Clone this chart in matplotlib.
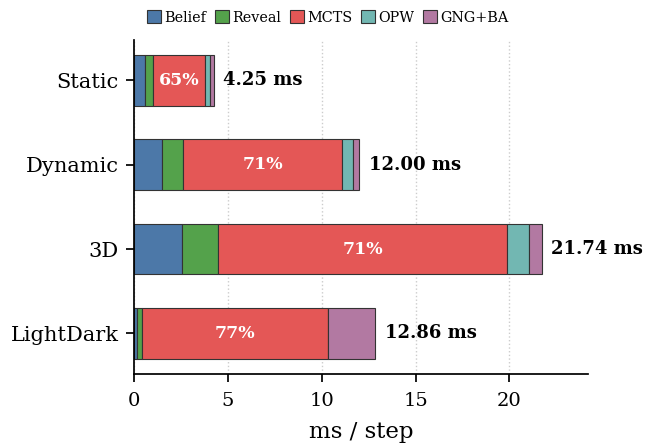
import numpy as np
import matplotlib
matplotlib.use("Agg")
import matplotlib.pyplot as plt

plt.rcParams["font.family"] = "DejaVu Serif"

scenarios = ["Static", "Dynamic", "3D", "LightDark"]
components = ["Belief", "Reveal", "MCTS", "OPW", "GNG+BA"]
belief = [0.57, 1.48, 2.55, 0.12]
reveal = [0.43, 1.12, 1.89, 0.30]
mcts = [2.77, 8.48, 15.45, 9.90]
opw = [0.25, 0.58, 1.13, 0.00]
gng_ba = [0.23, 0.34, 0.72, 2.54]
colors = ["#4C78A8", "#54A24B", "#E45756", "#72B7B2", "#B279A2"]

series = [belief, reveal, mcts, opw, gng_ba]
data = np.array(series)
totals = data.sum(axis=0)

fig = plt.figure(figsize=(6.55, 4.43), dpi=100)
ax = fig.add_axes([0.205, 0.156, 0.693, 0.754])

y = np.arange(len(scenarios))
left = np.zeros(len(scenarios))
for name, vals, c in zip(components, series, colors):
    ax.barh(y, vals, left=left, height=0.6, color=c, edgecolor="#333333",
            linewidth=0.8, label=name)
    left += np.array(vals)

# MCTS share inside the red segment, total on the right
mcts_start = data[0] + data[1]
for i in range(len(scenarios)):
    pct = 100 * mcts[i] / totals[i]
    ax.text(mcts_start[i] + mcts[i] / 2, y[i], f"{pct:.0f}%", ha="center",
            va="center", color="white", fontweight="bold", fontsize=12.5)
    ax.text(totals[i] + 0.5, y[i], f"{totals[i]:.2f} ms", ha="left",
            va="center", fontweight="bold", fontsize=13)

ax.set_yticks(y)
ax.set_yticklabels(scenarios, fontsize=15)
ax.invert_yaxis()
ax.set_xlim(0, 24.2)
ax.set_xticks([0, 5, 10, 15, 20])
ax.tick_params(length=6, width=1.25, pad=5)
ax.tick_params(axis="x", labelsize=14, pad=7)
ax.set_xlabel("ms / step", fontsize=16.5, labelpad=8)
ax.grid(axis="x", linestyle=":", color="#cccccc", linewidth=1)
ax.set_axisbelow(True)
ax.spines["top"].set_visible(False)
ax.spines["right"].set_visible(False)
for s in ("left", "bottom"):
    ax.spines[s].set_linewidth(1.25)

fig.legend(loc="upper center", bbox_to_anchor=(0.5, 1.0), ncol=5, frameon=False,
           fontsize=10.4, handlelength=1.0, handleheight=1.0, handletextpad=0.2,
           columnspacing=0.6, borderaxespad=0.3)

fig.savefig("out.png", dpi=100)
